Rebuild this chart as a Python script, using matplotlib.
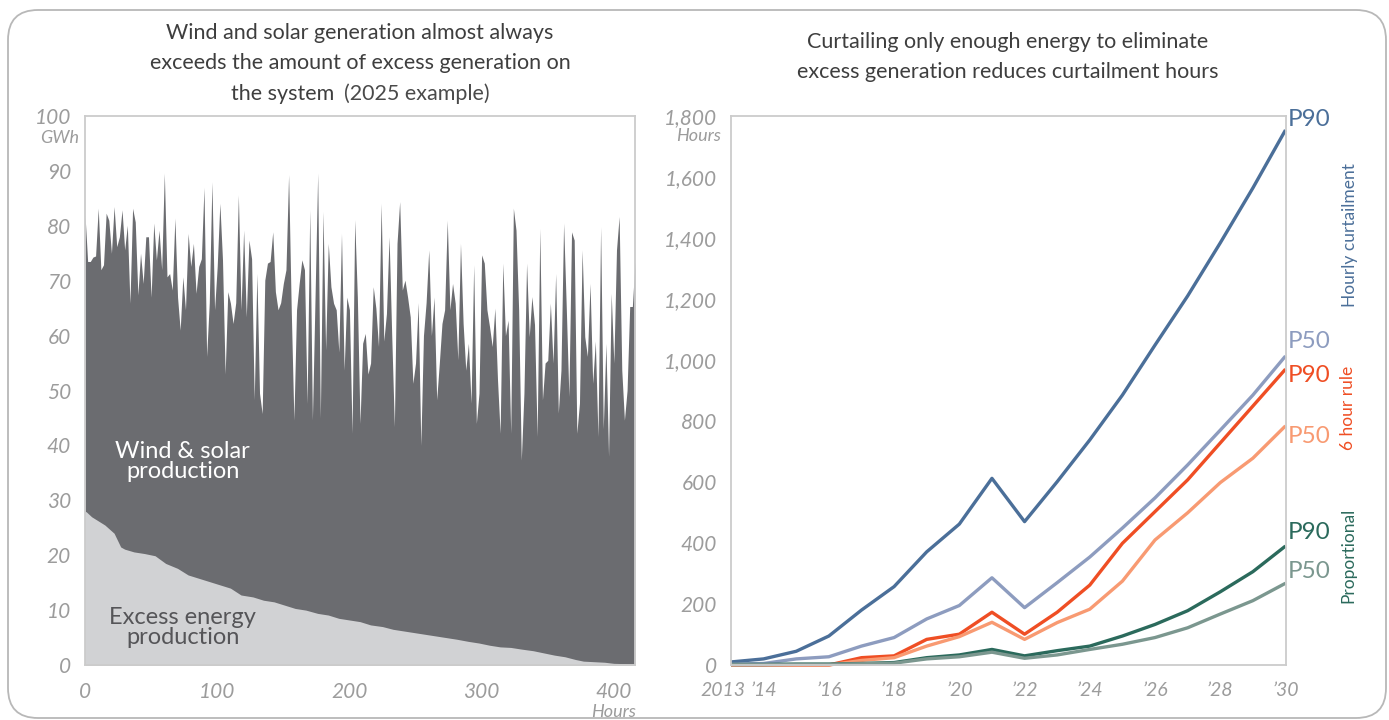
import numpy as np
import matplotlib
matplotlib.use('Agg')
import matplotlib.pyplot as plt
from matplotlib.patches import FancyBboxPatch
from matplotlib.transforms import IdentityTransform, ScaledTranslation
from matplotlib.ticker import FuncFormatter

plt.rcParams['font.family'] = ['Lato', 'DejaVu Sans']

# left chart: hourly wind & solar output (every 2 hours) and excess generation, GWh
wind_solar = [
    82, 73.5, 73.5, 74.3, 74.5, 83.2, 72, 72.9, 82.3, 81, 75, 83.5, 76.2, 78, 82.9, 75.6,
    80.1, 65.9, 83.2, 80.7, 67.4, 75, 69.5, 78, 78, 67, 80.5, 73.8, 79.2, 72, 89.6, 70.7,
    71.3, 68.3, 81.4, 67, 61, 70.7, 64.7, 78.6, 72.6, 76.8,
    67.7, 72.6, 74, 87, 56.2, 66, 88, 64.7, 72.6, 84.1, 73.8, 53, 68, 65.9, 62.2, 66,
    85.6, 64.7, 79.2, 63.4, 77.4, 74, 48.3, 71.3, 49.5, 45.8, 70.1, 73.2, 73.5, 78.9, 68,
    64.7, 66, 69.5, 72, 89.3, 64.7, 44.6, 64.7, 69.5, 73.8,
    72, 47.6, 82.9, 44.6, 67, 89.6, 45, 82.6, 57.4, 76.8, 68.9, 65.9, 64.7, 57, 78.6,
    53.7, 67, 64.7, 42.2, 81.1, 67, 44, 58.6, 60.4, 53, 55, 68.9, 65, 58, 84.1, 59, 64,
    78, 60, 43.4, 76.8, 84.4, 68.3, 70.1, 67, 63.4, 51.3, 55,
    66, 40, 60, 66, 75.6, 60, 67, 48.3, 55, 62.2, 64.7, 81, 64.7, 69.5, 65.9, 55.6, 76.8,
    62.2, 53.7, 58.6, 47.7, 72.9, 44, 49.5, 74.7, 73.2, 64.7, 61.6, 58, 65, 52, 42.2,
    73.2, 60, 62.8, 42.2, 83.2, 79.2, 64.7, 37.3, 49.5,
    73.2, 59.8, 67.1, 62, 41.6, 79.5, 48.3, 55, 55.5, 65.9, 55, 71.3, 45.9, 53.7, 80.5,
    65.3, 48.9, 78.9, 77.4, 42.2, 47.7, 75.6, 59.8, 56.2, 69.5, 51.3, 59, 41.6, 79.8, 43,
    58.6, 38, 67.7, 55, 75.6, 81.7, 53.7, 44.6, 50, 65.3, 65.3, 73.5,
]
excess_hours = [0, 1, 5, 15, 22, 27, 30, 37, 45, 53, 61, 70, 78, 86, 94, 102, 110, 118, 127,
                135, 143, 151, 159, 167, 176, 184, 192, 200, 208, 216, 225, 233, 241, 249,
                257, 265, 273, 281, 290, 298, 306, 314, 322, 330, 339, 347, 355, 363, 371,
                377, 385, 393, 400, 416]
excess = [28, 27.9, 27, 25.5, 24, 21.5, 21.1, 20.6, 20.3, 19.9, 18.5, 17.6, 16.4, 15.8, 15.2,
          14.6, 14, 12.75, 12.4, 11.8, 11.5, 10.9, 10.3, 10, 9.4, 9.1, 8.5, 8.2, 7.9, 7.3, 7,
          6.5, 6.2, 5.9, 5.6, 5.3, 5, 4.7, 4.3, 4, 3.6, 3.3, 3.2, 2.9, 2.6, 2.2, 1.8, 1.5, 1.0,
          0.7, 0.6, 0.5, 0.3, 0.2]

# right chart: curtailment hours per year
years = list(range(2013, 2031))
year_labels = ['2013', '\u201914', '', '\u201916', '', '\u201918', '', '\u201920', '',
               '\u201922', '', '\u201924', '', '\u201926', '', '\u201928', '', '\u201930']
hourly_p90 = [10, 20, 45, 95, 180, 257, 371, 462, 612, 470, 601, 738, 885, 1049, 1210, 1384, 1564, 1754]
hourly_p50 = [3, 5, 20, 27, 62, 90, 151, 195, 286, 188, 270, 354, 449, 548, 656, 770, 885, 1013]
six_p90 = [0, 0, 0, 0, 24, 30, 84, 101, 173, 101, 173, 262, 399, 503, 607, 728, 849, 970]
six_p50 = [0, 0, 0, 0, 15, 24, 62, 93, 140, 84, 139, 183, 275, 410, 499, 598, 678, 784]
prop_p90 = [2, 2, 3, 3, 5, 8, 24, 33, 51, 30, 47, 62, 95, 133, 178, 240, 306, 390]
prop_p50 = [1, 1, 2, 2, 4, 6, 20, 27, 42, 22, 33, 51, 68, 90, 122, 167, 211, 268]

W, H = 1389, 720
fig = plt.figure(figsize=(W / 100, H / 100), dpi=100)

# rounded frame around the whole graphic
frame = FancyBboxPatch((8, 2), 1378, 708, boxstyle='round,pad=0,rounding_size=30',
                       transform=IdentityTransform(), fc='none', ec='#b8b8b8', lw=1.3)
fig.patches.append(frame)

tick_col = '#9c9c9c'
unit_kw = dict(color=tick_col, style='italic', fontsize=13, va='center')
title_kw = dict(fontsize=15.5, color='#3e3e3e', ha='center', va='center')
spine_col = '#cccccc'


def style_axes(ax, size=15):
    for s in ax.spines.values():
        s.set_color(spine_col)
        s.set_linewidth(1.3)
    ax.tick_params(length=0)
    for lab in ax.get_xticklabels() + ax.get_yticklabels():
        lab.set_fontsize(size)
        lab.set_color(tick_col)
        lab.set_style('italic')


# ---- left chart
ax1 = fig.add_axes([85 / W, 55 / H, 550 / W, 549 / H])
hours = np.arange(len(wind_solar)) * 2
ax1.fill_between(hours, wind_solar, color='#6b6c70', lw=0)
ax1.fill_between(excess_hours, excess, color='#d1d2d4', lw=0)
ax1.set_xlim(0, 416)
ax1.set_ylim(0, 100)
ax1.set_yticks(range(0, 101, 10))
ax1.set_xticks([0, 100, 200, 300, 400])
ax1.tick_params(axis='y', pad=10)
ax1.tick_params(axis='x', pad=12)
style_axes(ax1)

ax1.text(74, 37, 'Wind & solar\nproduction', color='white', fontsize=17, ha='center',
         va='center', linespacing=0.95)
ax1.text(74, 6.9, 'Excess energy\nproduction', color='#555558', fontsize=17, ha='center',
         va='center', linespacing=0.95)

fig.text(79 / W, 1 - 138 / H, 'GWh', ha='right', **unit_kw)
fig.text(614 / W, 1 - 712 / H, 'Hours', ha='center', **unit_kw)

fig.text(360 / W, 1 - 33 / H, 'Wind and solar generation almost always', **title_kw)
fig.text(360 / W, 1 - 63 / H, 'exceeds the amount of excess generation on', **title_kw)
fig.text(334 / W, 1 - 94 / H, 'the system', **{**title_kw, 'ha': 'right'})
fig.text(344 / W, 1 - 94 / H, '(2025 example)', **{**title_kw, 'ha': 'left', 'color': '#4a4a4a'})

# ---- right chart
ax2 = fig.add_axes([731 / W, 55 / H, 554.5 / W, 549 / H])
series = [
    (hourly_p90, '#4b6f99', 'P90', 1787),
    (hourly_p50, '#8d9cbf', 'P50', 1062),
    (six_p90, '#ef4e24', 'P90', 948),
    (six_p50, '#f89a72', 'P50', 748),
    (prop_p90, '#2b6a5c', 'P90', 436),
    (prop_p50, '#7b978f', 'P50', 305),
]
for vals, col, lab, ly in series:
    ax2.plot(years, vals, color=col, lw=2.4, clip_on=False, solid_capstyle='butt')
    ax2.text(1.004, ly, lab, color=col, fontsize=17.5, ha='left', va='center',
             transform=ax2.get_yaxis_transform())

ax2.set_xlim(2013, 2030)
ax2.set_ylim(0, 1800)
ax2.set_yticks(range(0, 1801, 200))
ax2.yaxis.set_major_formatter(FuncFormatter(lambda v, p: f'{int(v):,}'))
ax2.set_xticks(years)
ax2.set_xticklabels(year_labels)
ax2.tick_params(axis='y', pad=10)
ax2.tick_params(axis='x', pad=12)
style_axes(ax2)
for lab in ax2.get_xticklabels():
    lab.set_fontsize(14)
# nudge the first year label left so it does not touch '14
first = ax2.get_xticklabels()[0]
first.set_transform(first.get_transform() + ScaledTranslation(-8 / 100, 0, fig.dpi_scale_trans))

fig.text(721 / W, 1 - 136 / H, 'Hours', ha='right', **unit_kw)

fig.text(1350 / W, 1 - 235 / H, 'Hourly curtailment', color='#4b6f99', fontsize=12.5,
         rotation=90, ha='center', va='center')
fig.text(1348 / W, 1 - 408 / H, '6 hour rule', color='#ef4e24', fontsize=12.5,
         rotation=90, ha='center', va='center')
fig.text(1348 / W, 1 - 555 / H, 'Proportional', color='#2b6a5c', fontsize=12.5,
         rotation=90, ha='center', va='center')

fig.text(1008 / W, 1 - 42 / H, 'Curtailing only enough energy to eliminate', **title_kw)
fig.text(1008 / W, 1 - 72 / H, 'excess generation reduces curtailment hours', **title_kw)

fig.savefig('out.png', dpi=100)
